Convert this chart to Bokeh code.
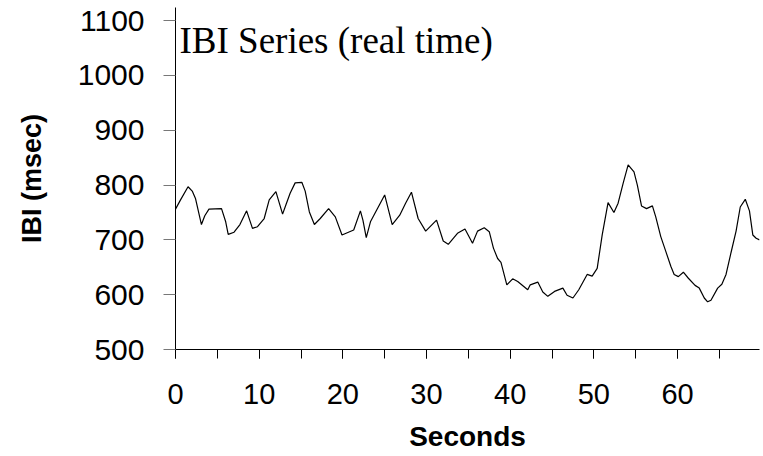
from bokeh.plotting import figure
from bokeh.models import Range1d, SingleIntervalTicker, Label
from bokeh.embed import file_html
from bokeh.resources import INLINE

# Inter-beat interval series against elapsed time
seconds = [0.0, 0.6, 1.5, 2.0, 2.4, 3.1, 3.5, 4.0, 5.5, 6.0, 6.3, 7.0, 7.7, 8.5,
           9.2, 9.8, 10.6, 11.2, 12.0, 12.8, 13.2, 13.7, 14.3, 15.1, 15.5, 16.0,
           16.6, 17.3, 18.3, 19.1, 19.9, 21.3, 22.1, 22.4, 22.8, 23.3, 25.0, 25.9,
           26.8, 27.5, 28.2, 29.0, 29.9, 31.2, 32.0, 32.6, 33.7, 34.6, 35.5, 36.1,
           36.9, 37.5, 38.0, 38.5, 38.9, 39.6, 40.3, 40.9, 42.1, 42.4, 43.3, 43.9,
           44.5, 45.3, 46.3, 46.8, 47.5, 48.2, 49.2, 49.8, 50.4, 51.0, 51.7, 52.4,
           52.9, 53.5, 54.1, 54.8, 55.2, 55.7, 56.3, 57.0, 57.4, 58.0, 58.6, 59.2,
           59.6, 60.1, 60.7, 61.3, 62.1, 62.6, 63.2, 63.6, 64.0, 64.8, 65.3, 65.8,
           66.4, 67.0, 67.5, 68.1, 68.6, 69.0, 69.4, 69.8]
ibi_msec = [756, 773, 797, 789, 775, 728, 744, 756, 757, 733, 710, 714, 728, 753,
            721, 724, 739, 773, 788, 747, 764, 785, 804, 805, 789, 751,
            728, 739, 757, 742, 709, 718, 753, 736, 704, 733, 782, 728,
            745, 767, 787, 739, 716, 736, 698, 692, 712, 720, 694, 716,
            722, 715, 685, 666, 659, 618, 629, 624, 609, 618, 623, 605,
            597, 606, 612, 599, 594, 609, 637, 634, 648, 709, 768, 750,
            767, 803, 837, 824, 800, 762, 757, 762, 742, 706, 679, 652,
            637, 633, 641, 630, 617, 612, 594, 587, 590, 612, 619, 637,
            677, 716, 760, 774, 753, 709, 703, 700]

title_text = "IBI Series (real time)"
x_label = "Seconds"
y_label = "IBI (msec)"

p = figure(width=763, height=456, output_backend="svg", toolbar_location=None,
           x_range=Range1d(0, 69.8), y_range=Range1d(500, 1124),
           min_border_left=175, min_border_right=4, min_border_top=7,
           min_border_bottom=107)
p.outline_line_color = None
p.xgrid.visible = False
p.ygrid.visible = False
p.background_fill_color = "white"
p.border_fill_color = "white"

p.line(seconds, ibi_msec, line_color="black", line_width=1.2)

# x axis: labelled every 10 s, extra ticks every 5 s
xa = p.xaxis[0]
xa.ticker = SingleIntervalTicker(interval=10, num_minor_ticks=2)
xa.axis_line_color = "black"
xa.major_tick_line_color = "black"
xa.minor_tick_line_color = "black"
xa.major_tick_in = 0
xa.major_tick_out = 9
xa.minor_tick_in = 0
xa.minor_tick_out = 9
xa.major_label_text_font = "Liberation Sans"
xa.major_label_text_font_size = "29px"
xa.major_label_text_color = "black"
xa.major_label_standoff = 25
xa.axis_label = x_label
xa.axis_label_text_font = "Liberation Sans"
xa.axis_label_text_font_style = "bold"
xa.axis_label_text_font_size = "28px"
xa.axis_label_text_color = "black"
xa.axis_label_standoff = 14

ya = p.yaxis[0]
ya.ticker = SingleIntervalTicker(interval=100, num_minor_ticks=0)
ya.axis_line_color = "black"
ya.major_tick_line_color = "#777777"
ya.major_tick_in = 0
ya.major_tick_out = 12
ya.minor_tick_line_color = None
ya.major_label_text_font = "Liberation Sans"
ya.major_label_text_font_size = "30px"
ya.major_label_text_color = "black"
ya.major_label_standoff = 19
ya.axis_label = y_label
ya.axis_label_text_font = "Liberation Sans"
ya.axis_label_text_font_style = "bold"
ya.axis_label_text_font_size = "27px"
ya.axis_label_text_color = "black"
ya.axis_label_standoff = 28

p.add_layout(Label(x=4, y=330, x_units="screen", y_units="screen",
                   text=title_text, text_font="Liberation Serif",
                   text_font_size="37px", text_color="black",
                   text_baseline="top", text_align="left"))

open("out.html", "w").write(file_html(p, INLINE))
